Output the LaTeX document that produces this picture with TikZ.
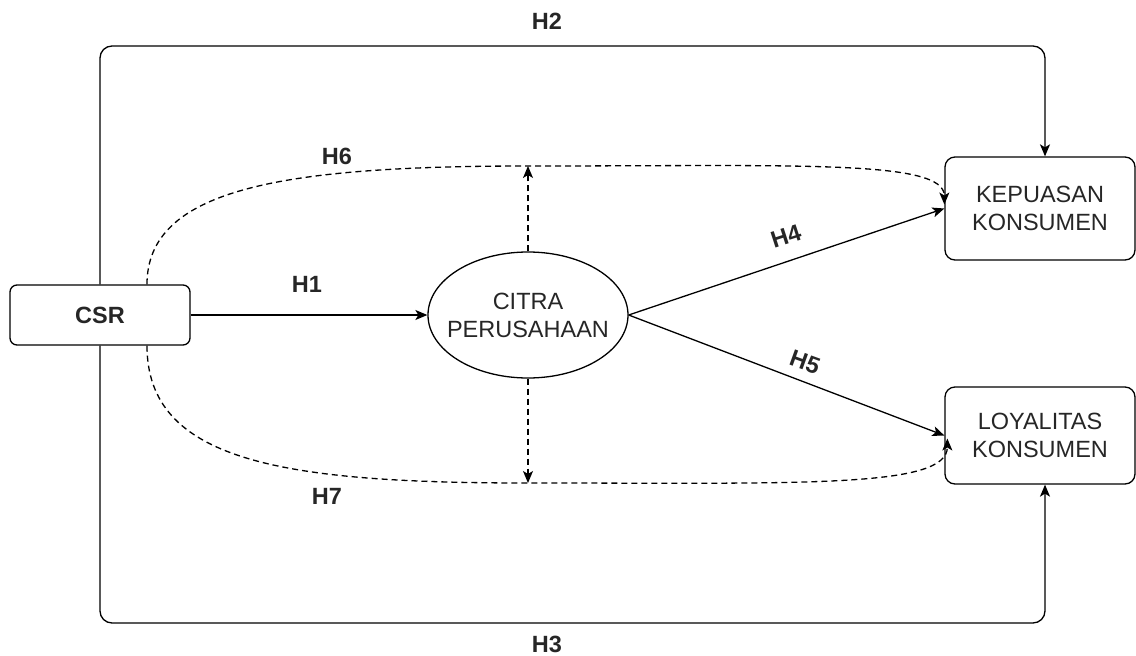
\documentclass[tikz,border=0pt]{standalone}
\usepackage{fontspec}
\setmainfont{Liberation Sans}
\usetikzlibrary{shapes.geometric,arrows.meta}
\begin{document}
\begin{tikzpicture}[x=1pt,y=-1pt,
  every node/.style={font=\fontsize{23.5}{28}\selectfont, text=black!85},
  box/.style={draw, line width=1.3pt, rounded corners=10pt, minimum width=190pt, inner sep=0pt, align=center},
  csrbox/.style={draw, line width=1.3pt, rounded corners=7pt, minimum width=180pt, minimum height=60pt, inner sep=0pt, font=\fontsize{23.5}{28}\selectfont\bfseries},
  oval/.style={draw, ellipse, line width=1.3pt, minimum width=200pt, minimum height=126pt, inner xsep=-12pt, inner ysep=0pt, align=center},
  arr/.style={line width=1.3pt, -{Stealth[length=12pt,width=10pt,inset=3pt]}},
  dasharr/.style={arr, dash pattern=on 6pt off 4pt},
  lab/.style={font=\fontsize{23.5}{28}\selectfont\bfseries}
]
\useasboundingbox (0,0) rectangle (1136,656);

% variables
\node[csrbox] (csr) at (100,315) {CSR};
\node[oval] (cit) at (528,315) {CITRA\\PERUSAHAAN};
\node[box, minimum height=103pt] (kep) at (1040,208.5) {KEPUASAN\\KONSUMEN};
\node[box, minimum height=97pt] (loy) at (1040,435.5) {LOYALITAS\\KONSUMEN};

% rails of the outer paths and of the mediation curves
\coordinate (toprail) at (1045,46);
\coordinate (botrail) at (1045,623);
\coordinate (h6top) at (528,166);
\coordinate (h7bot) at (528,483);

% direct effects
\draw[arr] (csr.east) -- (cit.west);
\draw[arr] (cit.east) -- (kep.west);
\draw[arr] (cit.east) -- (loy.west);
\draw[arr, rounded corners=12pt] (csr.north) |- (toprail) -- (kep.north -| toprail);
\draw[arr, rounded corners=12pt] (csr.south) |- (botrail) -- (loy.south -| botrail);

% mediated effects
\draw[dasharr] ([xshift=47pt]csr.north) .. controls +(0,-95) and (280,166) .. (h6top)
  .. controls (800,166) and +(0,-45) .. ([yshift=4pt]kep.west);
\draw[dasharr] ([xshift=47pt]csr.south) .. controls +(0,115) and (280,483) .. (h7bot)
  .. controls (800,483) and +(0,50) .. ([xshift=3pt,yshift=-3pt]loy.west);
\draw[dasharr] (cit.north) -- (h6top);
\draw[dasharr] (cit.south) -- (h7bot);

% hypothesis labels
\node[lab] (l1) at (307,284) {H1};
\node[lab] (l2) at (547,21) {H2};
\node[lab] (l3) at (547,644) {H3};
\node[lab, rotate=18] (l4) at (786,236) {H4};
\node[lab, rotate=-20] (l5) at (805,362) {H5};
\node[lab] (l6) at (337,156) {H6};
\node[lab] (l7) at (327,496) {H7};
\end{tikzpicture}
\end{document}
